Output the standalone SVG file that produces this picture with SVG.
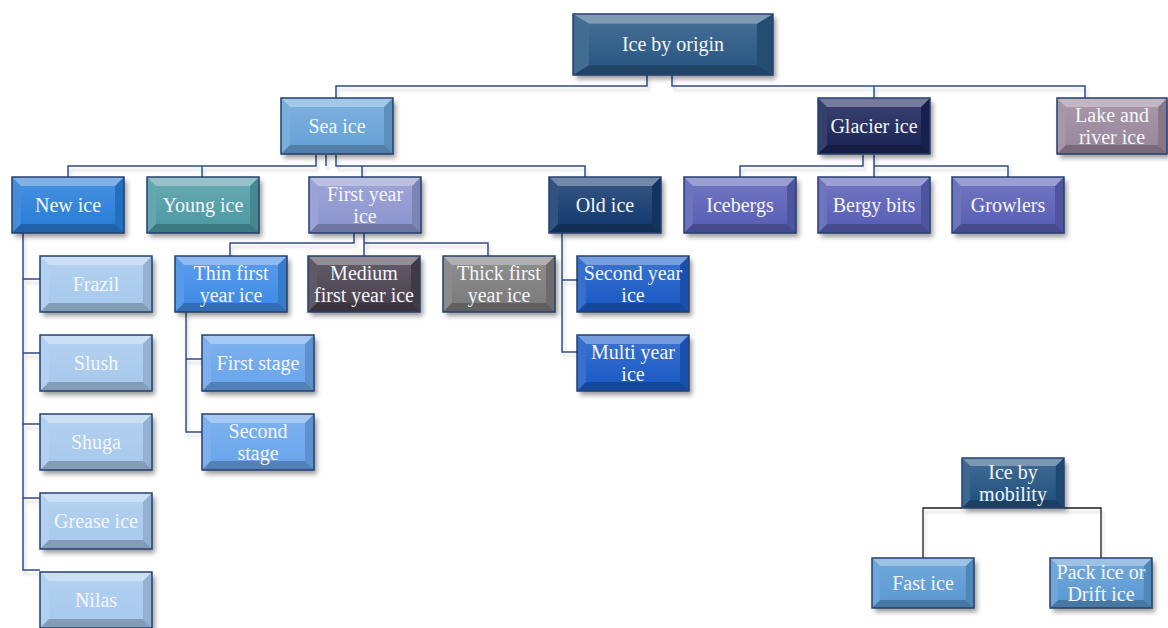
<svg xmlns="http://www.w3.org/2000/svg" xmlns:xlink="http://www.w3.org/1999/xlink" width="1168" height="628" viewBox="0 0 1168 628">
<style>
.t{font-family:"Liberation Serif","Times New Roman",Times,serif;font-size:20px;fill:#f4f6fa;text-anchor:middle}
.edge{fill:none;stroke:#24406f;stroke-width:1.5}
.base{filter:url(#sh)}
.c{fill:none;stroke:#2e4d86;stroke-width:1.5}
.k{fill:none;stroke:#1c1c1c;stroke-width:1.3}
</style>
<defs>
<filter id="sh" x="-10%" y="-10%" width="130%" height="140%">
<feDropShadow dx="3" dy="4" stdDeviation="2.5" flood-color="#000" flood-opacity="0.4"/>
</filter>
<filter id="lsh" x="-5%" y="-5%" width="110%" height="115%">
<feDropShadow dx="2" dy="4" stdDeviation="1.5" flood-color="#000" flood-opacity="0.16"/>
</filter>
<linearGradient id="face" x1="0" y1="0" x2="0" y2="1">
<stop offset="0" stop-color="#fff" stop-opacity="0.12"/>
<stop offset="1" stop-color="#fff" stop-opacity="0"/>
</linearGradient>
<symbol id="bev" viewBox="0 0 112 56" preserveAspectRatio="none">
<polygon points="0,0 112,0 103,9 9,9" fill="#fff" fill-opacity="0.4"/>
<polygon points="0,0 9,9 9,47 0,56" fill="#fff" fill-opacity="0.12"/>
<polygon points="112,0 112,56 103,47 103,9" fill="#000" fill-opacity="0.12"/>
<polygon points="0,56 9,47 103,47 112,56" fill="#000" fill-opacity="0.22"/>
<rect x="9" y="9" width="94" height="38" fill="url(#face)"/>
</symbol>
</defs>
<rect width="1168" height="628" fill="#fff"/>

<g id="connectors" filter="url(#lsh)">
<path class="c" d="M647,75 V86 H336 V98"/>
<path class="c" d="M672,75 V86 H1085 V98"/>
<path class="c" d="M874,86 V98"/>
<path class="c" d="M316,155 V166 H68 V177"/>
<path class="c" d="M202,166 V177"/>
<path class="c" d="M326,155 V166"/>
<path class="c" d="M336,155 V166 H585 V177"/>
<path class="c" d="M362,166 V177"/>
<path class="c" d="M863,155 V166 H740 V177"/>
<path class="c" d="M874,155 V177 M874,166 H1008 V177"/>
<path class="c" d="M354,233 V243 H230 V256"/>
<path class="c" d="M364,233 V256 M364,243 H488 V256"/>
<path class="c" d="M23,233 V570 H40 M23,279 H40 M23,353 H40 M23,424 H40 M23,498 H40"/>
<path class="c" d="M186,312 V432 H202 M186,359 H202"/>
<path class="c" d="M562,233 V352 H577 M562,280 H577"/>
<path class="k" d="M962,508 H923 V558"/>
<path class="k" d="M1064,508 H1101 V558"/>
</g>

<g id="ice-by-origin" transform="translate(573,14)">
<rect class="base" width="200" height="61" fill="#2b5984"/><use href="#bev" width="200" height="61"/><rect class="edge" width="200" height="61"/>
<text class="t" x="100" y="37">Ice by origin</text></g>

<g id="sea-ice" transform="translate(281,98)">
<rect class="base" width="112" height="56" fill="#68a3d8"/><use href="#bev" width="112" height="56"/><rect class="edge" width="112" height="56"/>
<text class="t" x="56" y="35">Sea ice</text></g>

<g id="glacier-ice" transform="translate(818,98)">
<rect class="base" width="112" height="56" fill="#1f2758"/><use href="#bev" width="112" height="56"/><rect class="edge" width="112" height="56"/>
<text class="t" x="56" y="35">Glacier ice</text></g>

<g id="lake-river-ice" transform="translate(1057,98)">
<rect class="base" width="110" height="56" fill="#9a889c"/><use href="#bev" width="110" height="56"/><rect class="edge" width="110" height="56"/>
<text class="t" x="55" y="24">Lake and</text><text class="t" x="55" y="46">river ice</text></g>

<g id="new-ice" transform="translate(12,177)">
<rect class="base" width="112" height="56" fill="#2b7fd8"/><use href="#bev" width="112" height="56"/><rect class="edge" width="112" height="56"/>
<text class="t" x="56" y="35">New ice</text></g>

<g id="young-ice" transform="translate(147,177)">
<rect class="base" width="112" height="56" fill="#4f9ba5"/><use href="#bev" width="112" height="56"/><rect class="edge" width="112" height="56"/>
<text class="t" x="56" y="35">Young ice</text></g>

<g id="first-year-ice" transform="translate(309,177)">
<rect class="base" width="112" height="56" fill="#8e96d0"/><use href="#bev" width="112" height="56"/><rect class="edge" width="112" height="56"/>
<text class="t" x="56" y="24">First year</text><text class="t" x="56" y="46">ice</text></g>

<g id="old-ice" transform="translate(549,177)">
<rect class="base" width="112" height="56" fill="#163a70"/><use href="#bev" width="112" height="56"/><rect class="edge" width="112" height="56"/>
<text class="t" x="56" y="35">Old ice</text></g>

<g id="icebergs" transform="translate(684,177)">
<rect class="base" width="112" height="56" fill="#5a60b6"/><use href="#bev" width="112" height="56"/><rect class="edge" width="112" height="56"/>
<text class="t" x="56" y="35">Icebergs</text></g>

<g id="bergy-bits" transform="translate(818,177)">
<rect class="base" width="112" height="56" fill="#5a60b6"/><use href="#bev" width="112" height="56"/><rect class="edge" width="112" height="56"/>
<text class="t" x="56" y="35">Bergy bits</text></g>

<g id="growlers" transform="translate(952,177)">
<rect class="base" width="112" height="56" fill="#5a60b6"/><use href="#bev" width="112" height="56"/><rect class="edge" width="112" height="56"/>
<text class="t" x="56" y="35">Growlers</text></g>

<g id="thin-first-year-ice" transform="translate(175,256)">
<rect class="base" width="112" height="56" fill="#3f8ce8"/><use href="#bev" width="112" height="56"/><rect class="edge" width="112" height="56"/>
<text class="t" x="56" y="24">Thin first</text><text class="t" x="56" y="46">year ice</text></g>

<g id="medium-first-year-ice" transform="translate(308,256)">
<rect class="base" width="112" height="56" fill="#4b4250"/><use href="#bev" width="112" height="56"/><rect class="edge" width="112" height="56"/>
<text class="t" x="56" y="24">Medium</text><text class="t" x="56" y="46">first year ice</text></g>

<g id="thick-first-year-ice" transform="translate(443,256)">
<rect class="base" width="112" height="56" fill="#7b7b7d"/><use href="#bev" width="112" height="56"/><rect class="edge" width="112" height="56"/>
<text class="t" x="56" y="24">Thick first</text><text class="t" x="56" y="46">year ice</text></g>

<g id="second-year-ice" transform="translate(577,256)">
<rect class="base" width="112" height="56" fill="#1e5cc6"/><use href="#bev" width="112" height="56"/><rect class="edge" width="112" height="56"/>
<text class="t" x="56" y="24">Second year</text><text class="t" x="56" y="46">ice</text></g>

<g id="multi-year-ice" transform="translate(577,335)">
<rect class="base" width="112" height="56" fill="#1e5cc6"/><use href="#bev" width="112" height="56"/><rect class="edge" width="112" height="56"/>
<text class="t" x="56" y="24">Multi year</text><text class="t" x="56" y="46">ice</text></g>

<g id="first-stage" transform="translate(202,335)">
<rect class="base" width="112" height="56" fill="#6ba6ec"/><use href="#bev" width="112" height="56"/><rect class="edge" width="112" height="56"/>
<text class="t" x="56" y="35">First stage</text></g>

<g id="second-stage" transform="translate(202,414)">
<rect class="base" width="112" height="56" fill="#6ba6ec"/><use href="#bev" width="112" height="56"/><rect class="edge" width="112" height="56"/>
<text class="t" x="56" y="24">Second</text><text class="t" x="56" y="46">stage</text></g>

<g id="frazil" transform="translate(40,256)">
<rect class="base" width="112" height="56" fill="#a8caee"/><use href="#bev" width="112" height="56"/><rect class="edge" width="112" height="56"/>
<text class="t" x="56" y="35">Frazil</text></g>

<g id="slush" transform="translate(40,335)">
<rect class="base" width="112" height="56" fill="#a8caee"/><use href="#bev" width="112" height="56"/><rect class="edge" width="112" height="56"/>
<text class="t" x="56" y="35">Slush</text></g>

<g id="shuga" transform="translate(40,414)">
<rect class="base" width="112" height="56" fill="#a8caee"/><use href="#bev" width="112" height="56"/><rect class="edge" width="112" height="56"/>
<text class="t" x="56" y="35">Shuga</text></g>

<g id="grease-ice" transform="translate(40,493)">
<rect class="base" width="112" height="56" fill="#a8caee"/><use href="#bev" width="112" height="56"/><rect class="edge" width="112" height="56"/>
<text class="t" x="56" y="35">Grease ice</text></g>

<g id="nilas" transform="translate(40,572)">
<rect class="base" width="112" height="56" fill="#a8caee"/><use href="#bev" width="112" height="56"/><rect class="edge" width="112" height="56"/>
<text class="t" x="56" y="35">Nilas</text></g>

<g id="ice-by-mobility" transform="translate(962,458)">
<rect class="base" width="102" height="50" fill="#245381"/><use href="#bev" width="102" height="50"/><rect class="edge" width="102" height="50"/>
<text class="t" x="51" y="21">Ice by</text><text class="t" x="51" y="43">mobility</text></g>

<g id="fast-ice" transform="translate(872,558)">
<rect class="base" width="102" height="50" fill="#5b9ad3"/><use href="#bev" width="102" height="50"/><rect class="edge" width="102" height="50"/>
<text class="t" x="51" y="32">Fast ice</text></g>

<g id="pack-ice" transform="translate(1050,558)">
<rect class="base" width="102" height="50" fill="#5b9ad3"/><use href="#bev" width="102" height="50"/><rect class="edge" width="102" height="50"/>
<text class="t" x="51" y="21">Pack ice or</text><text class="t" x="51" y="43">Drift ice</text></g>
</svg>
